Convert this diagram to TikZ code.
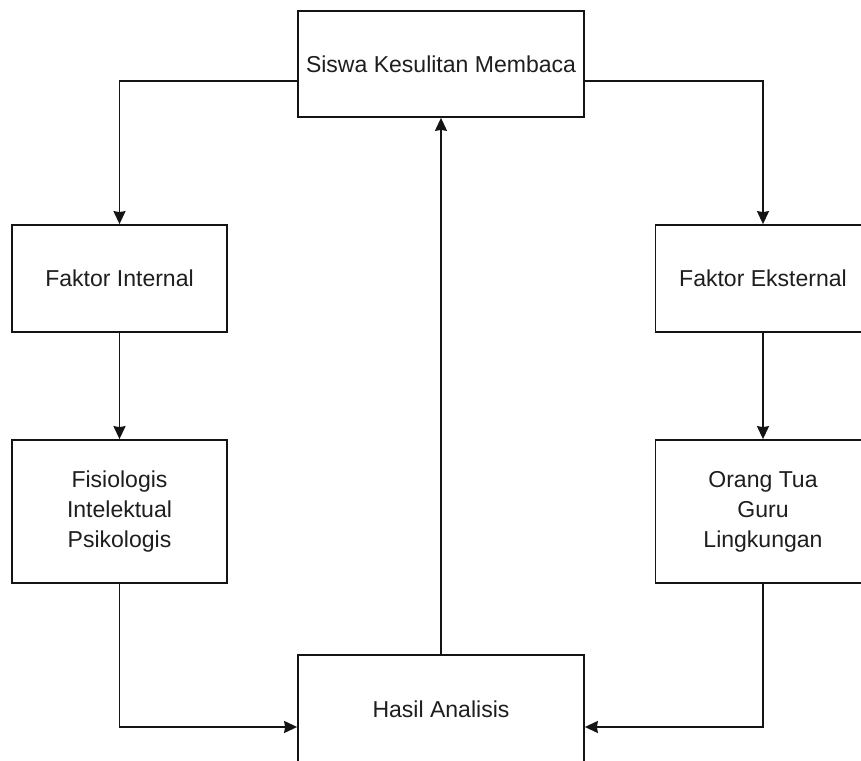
\documentclass[tikz,border=0pt]{standalone}
\usepackage{fontspec}
\setmainfont{Liberation Sans}
\definecolor{boxline}{RGB}{20, 20, 20}
\definecolor{textgray}{RGB}{30, 30, 30}
\usetikzlibrary{arrows.meta, positioning, calc}

\begin{document}
\begin{tikzpicture}[
  box/.style={draw=boxline, line width=1pt, fill=white, align=center, text=textgray, font=\fontsize{13.1}{17}\selectfont, inner sep=0pt},
  arr/.style={-{Stealth[length=0.26cm, width=0.24cm, inset=0.02cm]}, line width=1pt, draw=boxline}
]
  \useasboundingbox (0, 0) rectangle (17.22, 15.2);
  \clip (0, 0) rectangle (17.22, 15.2);

  % Top and bottom
  \node[box, minimum width=5.72cm, minimum height=2.12cm] (siswa) at (8.82, 13.92) {Siswa Kesulitan Membaca};
  \node[box, minimum width=5.72cm, minimum height=2.16cm] (hasil) at (8.82, 1.02) {Hasil Analisis};

  % Left column
  \node[box, minimum width=4.3cm, minimum height=2.14cm] (internal) at (2.39, 9.63) {Faktor Internal};
  \node[box, minimum width=4.3cm, minimum height=2.86cm] (fisiologis) at (2.39, 4.97) {Fisiologis\\Intelektual\\Psikologis};

  % Right column
  \node[box, minimum width=4.3cm, minimum height=2.14cm] (eksternal) at (15.26, 9.63) {Faktor Eksternal};
  \node[box, minimum width=4.3cm, minimum height=2.86cm] (orangtua) at (15.26, 4.97) {Orang Tua\\Guru\\Lingkungan};

  % Connectors
  \draw[arr] ([yshift=-0.34cm]siswa.west) -| (internal);
  \draw[arr] ([yshift=-0.34cm]siswa.east) -| (eksternal);
  \draw[arr] (internal) -- (fisiologis);
  \draw[arr] (eksternal) -- (orangtua);
  \draw[arr] (fisiologis) |- ([yshift=-0.36cm]hasil.west);
  \draw[arr] (orangtua) |- ([yshift=-0.36cm]hasil.east);
  \draw[arr] (hasil) -- (siswa);
\end{tikzpicture}
\end{document}
